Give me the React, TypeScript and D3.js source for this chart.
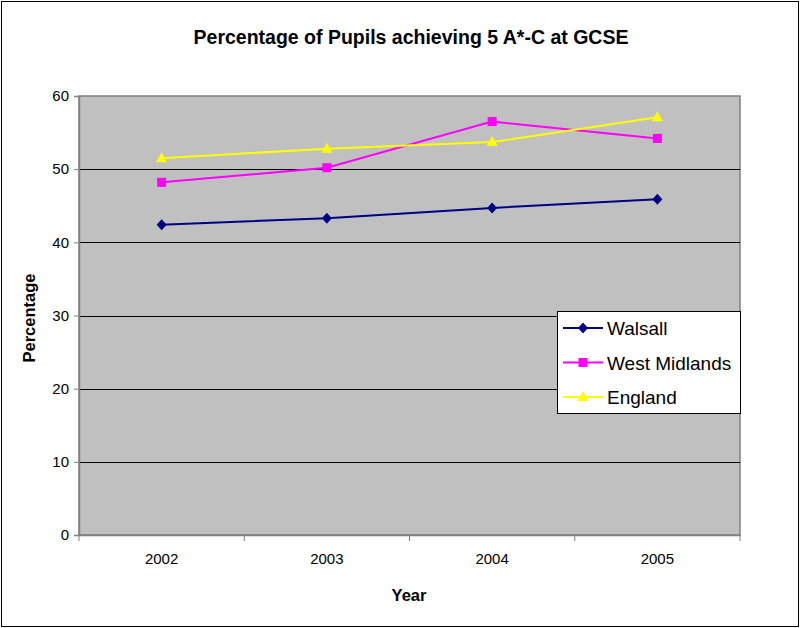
import { useEffect, useRef } from 'react';
import * as d3 from 'd3';

const years = ['2002', '2003', '2004', '2005'];
const walsall = [42.4, 43.3, 44.7, 45.9];
const westMidlands = [48.2, 50.2, 56.5, 54.2];
const england = [51.5, 52.8, 53.7, 57.1];
const yTicks = [0, 10, 20, 30, 40, 50, 60];

const series = [
  { name: 'Walsall', values: walsall, color: '#000080', marker: 'diamond' },
  { name: 'West Midlands', values: westMidlands, color: '#FF00FF', marker: 'square' },
  { name: 'England', values: england, color: '#FFFF00', marker: 'triangle' },
];

export default function App() {
  const svgRef = useRef<SVGSVGElement>(null);

  useEffect(() => {
    if (!svgRef.current) return;
    const width = 801;
    const height = 628;
    const margin = { top: 96, right: 61, bottom: 93, left: 79 };
    const font = 'Liberation Sans, Arial, sans-serif';

    const svg = d3.select(svgRef.current);
    svg.selectAll('*').remove();

    svg.append('rect')
      .attr('x', 0).attr('y', 0).attr('width', width).attr('height', height)
      .attr('fill', '#fff');
    svg.append('rect')
      .attr('x', 1.5).attr('y', 1.5).attr('width', width - 4).attr('height', height - 3)
      .attr('fill', 'none').attr('stroke', '#000').attr('stroke-width', 1);

    const x = d3.scaleBand()
      .domain(years)
      .range([margin.left, width - margin.right]);

    const y = d3.scaleLinear()
      .domain([0, 60])
      .range([height - margin.bottom, margin.top]);

    // plot area
    svg.append('rect')
      .attr('x', margin.left).attr('y', margin.top)
      .attr('width', width - margin.left - margin.right)
      .attr('height', height - margin.top - margin.bottom)
      .attr('fill', '#C0C0C0').attr('stroke', '#808080').attr('stroke-width', 1.5);

    // gridlines
    svg.append('g')
      .selectAll('line')
      .data(yTicks.filter(t => t > 0 && t < 60))
      .join('line')
      .attr('x1', margin.left).attr('x2', width - margin.right)
      .attr('y1', d => Math.round(y(d)) + 0.5).attr('y2', d => Math.round(y(d)) + 0.5)
      .attr('stroke', '#000').attr('stroke-width', 1);

    // y axis
    const yAxis = svg.append('g')
      .attr('transform', `translate(${margin.left},0)`)
      .call(d3.axisLeft(y).tickValues(yTicks).tickSize(5).tickPadding(5));
    yAxis.select('.domain').attr('stroke', '#808080').attr('stroke-width', 1.5);
    yAxis.selectAll('.tick line').attr('stroke', '#808080');
    yAxis.selectAll('text')
      .style('font-family', font).style('font-size', '15px').attr('fill', '#000');

    // x axis
    const xAxis = svg.append('g')
      .attr('transform', `translate(0,${height - margin.bottom})`)
      .call(d3.axisBottom(x).tickSize(0).tickPadding(18));
    xAxis.select('.domain').attr('stroke', '#808080').attr('stroke-width', 1.5);
    xAxis.selectAll('text')
      .style('font-family', font).style('font-size', '15px').attr('fill', '#000');
    svg.append('g')
      .selectAll('line')
      .data(years.map(d => x(d)!).concat([width - margin.right]))
      .join('line')
      .attr('x1', d => d).attr('x2', d => d)
      .attr('y1', height - margin.bottom).attr('y2', height - margin.bottom + 6)
      .attr('stroke', '#808080');

    const cx = (i: number) => x(years[i])! + x.bandwidth() / 2;

    const drawMarker = (g: d3.Selection<SVGGElement, unknown, null, undefined>, type: string, px: number, py: number, color: string) => {
      if (type === 'diamond') {
        g.append('path')
          .attr('d', `M${px},${py - 5.5}L${px + 5},${py}L${px},${py + 5.5}L${px - 5},${py}Z`)
          .attr('fill', color);
      } else if (type === 'square') {
        g.append('rect')
          .attr('x', px - 4.5).attr('y', py - 4.5).attr('width', 9).attr('height', 9)
          .attr('fill', color);
      } else {
        g.append('path')
          .attr('d', `M${px},${py - 6}L${px + 5.5},${py + 4}L${px - 5.5},${py + 4}Z`)
          .attr('fill', color);
      }
    };

    const line = d3.line<number>()
      .x((_, i) => cx(i))
      .y(d => y(d));

    series.forEach(s => {
      const g = svg.append('g');
      g.append('path')
        .attr('d', line(s.values)!)
        .attr('fill', 'none')
        .attr('stroke', s.color)
        .attr('stroke-width', 2);
      s.values.forEach((v, i) => drawMarker(g, s.marker, cx(i), y(v), s.color));
    });

    // title
    svg.append('text')
      .attr('x', 411).attr('y', 44)
      .attr('text-anchor', 'middle')
      .style('font-family', font).style('font-size', '19.5px').style('font-weight', 'bold')
      .text('Percentage of Pupils achieving 5 A*-C at GCSE');

    svg.append('text')
      .attr('x', 409).attr('y', 601)
      .attr('text-anchor', 'middle')
      .style('font-family', font).style('font-size', '16.5px').style('font-weight', 'bold')
      .text('Year');

    svg.append('text')
      .attr('transform', `translate(35,318) rotate(-90)`)
      .attr('text-anchor', 'middle')
      .style('font-family', font).style('font-size', '16.5px').style('font-weight', 'bold')
      .text('Percentage');

    // legend
    const lg = svg.append('g').attr('transform', 'translate(557,311)');
    lg.append('rect')
      .attr('x', 0.5).attr('y', 0.5).attr('width', 183).attr('height', 102)
      .attr('fill', '#fff').attr('stroke', '#000').attr('stroke-width', 1);
    series.forEach((s, i) => {
      const ly = 17 + i * 34.5;
      const item = lg.append('g');
      item.append('line')
        .attr('x1', 6).attr('x2', 46).attr('y1', ly).attr('y2', ly)
        .attr('stroke', s.color).attr('stroke-width', 2);
      drawMarker(item, s.marker, 26, ly, s.color);
      item.append('text')
        .attr('x', 50).attr('y', ly + 7)
        .style('font-family', font).style('font-size', '19px')
        .text(s.name);
    });
  }, []);

  return (
    <svg ref={svgRef} width={801} height={628}
      style={{ position: 'absolute', left: 0, top: 0, display: 'block' }} />
  );
}
